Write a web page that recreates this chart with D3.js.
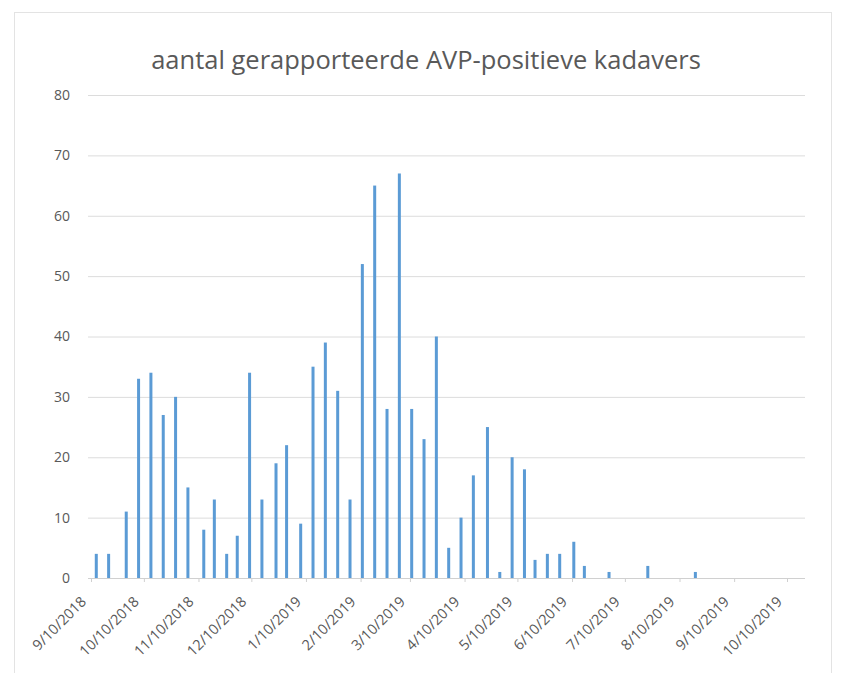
<!DOCTYPE html>
<html>
<head>
<meta charset="utf-8">
<script src="https://cdn.jsdelivr.net/npm/d3@7"></script>
<style>
  body { margin: 0; background: #fff; }
  text { font-family: "Open Sans", "Noto Sans", sans-serif; fill: #595959; }
</style>
</head>
<body>
<script>
// weekly report dates and counts
var reportDates = ["9/13/2018", "9/20/2018", "9/30/2018", "10/7/2018", "10/14/2018", "10/21/2018",
  "10/28/2018", "11/4/2018", "11/13/2018", "11/19/2018", "11/26/2018", "12/2/2018", "12/9/2018",
  "12/16/2018", "12/24/2018", "12/30/2018", "1/7/2019", "1/14/2019", "1/21/2019", "1/28/2019",
  "2/4/2019", "2/11/2019", "2/18/2019", "2/25/2019", "3/4/2019", "3/11/2019", "3/18/2019",
  "3/25/2019", "4/1/2019", "4/8/2019", "4/15/2019", "4/23/2019", "4/30/2019", "5/7/2019",
  "5/14/2019", "5/20/2019", "5/27/2019", "6/3/2019", "6/11/2019", "6/17/2019", "7/1/2019",
  "7/23/2019", "8/19/2019"];
var counts = [4, 4, 11, 33, 34, 27, 30, 15, 8, 13, 4, 7, 34, 13, 19, 22, 9, 35, 39, 31, 13,
  52, 65, 28, 67, 28, 23, 40, 5, 10, 17, 25, 1, 20, 18, 3, 4, 4, 6, 2, 1, 2, 1];

var tickLabels = ["9/10/2018", "10/10/2018", "11/10/2018", "12/10/2018", "1/10/2019", "2/10/2019",
  "3/10/2019", "4/10/2019", "5/10/2019", "6/10/2019", "7/10/2019", "8/10/2019", "9/10/2019", "10/10/2019"];
var yTicks = [0, 10, 20, 30, 40, 50, 60, 70, 80];

var title = "aantal gerapporteerde AVP-positieve kadavers";

var width  = 841;
var height = 673;
var parse  = d3.timeParse("%m/%d/%Y");

var x = d3.scaleTime()
          .domain([parse(tickLabels[0]), parse(tickLabels[tickLabels.length - 1])])
          .range([91, 787]);

var y = d3.scaleLinear()
          .domain([0, 80])
          .range([578, 95]);

var svg = d3.select("body")
            .append("svg")
            .attr("width", width)
            .attr("height", height);

// chart frame
svg.append("rect")
   .attr("x", 14.5).attr("y", 12.5)
   .attr("width", 817).attr("height", 680)
   .style("fill", "#fff")
   .style("stroke", "#e3e3e3");

svg.append("text")
   .attr("x", 426).attr("y", 69)
   .attr("text-anchor", "middle")
   .style("font-size", "25.5px")
   .text(title);

// gridlines + y labels
var grid = d3.axisLeft(y)
             .tickValues(yTicks)
             .tickSize(-(805 - 88))
             .tickPadding(18);

svg.append("g")
   .attr("transform", "translate(88,0)")
   .call(grid)
   .call(function(g) {
     g.select(".domain").remove();
     g.selectAll(".tick line").style("stroke", "#dcdcdc");
     g.selectAll(".tick text").style("font-size", "14px").style("fill", "#595959");
   });

// bars
svg.selectAll("rect.bar")
   .data(counts)
   .enter()
     .append("rect")
     .attr("class", "bar")
     .attr("x", function(d, i) { return x(parse(reportDates[i])) - 1.5; })
     .attr("y", function(d) { return y(d); })
     .attr("width", 3)
     .attr("height", function(d) { return y(0) - y(d); })
     .style("fill", "#5b9bd5");

// date axis
var xAxis = d3.axisBottom(x)
              .tickValues(tickLabels.map(parse))
              .tickSize(4)
              .tickFormat(function(d, i) { return tickLabels[i]; });

svg.append("g")
   .attr("transform", "translate(0," + y(0) + ")")
   .call(xAxis)
   .call(function(g) {
     g.select(".domain").attr("d", "M88,0.5H805").style("stroke", "#d0d0d0");
     g.selectAll(".tick line").style("stroke", "#d0d0d0");
     g.selectAll(".tick text")
      .style("font-size", "14.5px")
      .style("fill", "#595959")
      .attr("text-anchor", "end")
      .attr("x", 0)
      .attr("y", 0)
      .attr("dy", "0.35em")
      .attr("transform", "translate(-8,21) rotate(-45)");
   });
</script>
</body>
</html>
